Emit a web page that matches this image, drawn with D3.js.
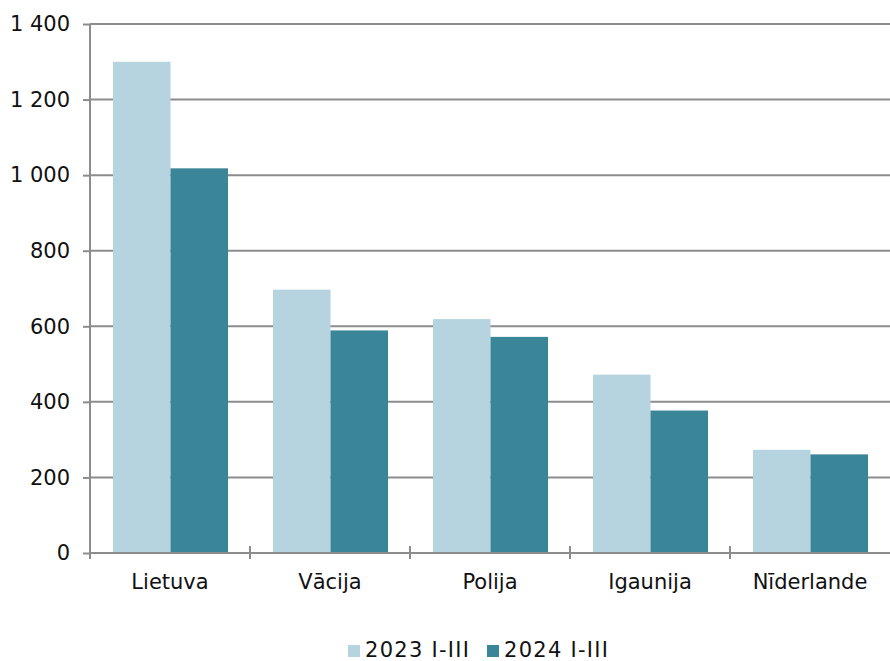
<!DOCTYPE html>
<html>
<head>
<meta charset="utf-8">
<script src="https://cdn.jsdelivr.net/npm/d3@7"></script>
<style>
  body { margin: 0; background: #fff; }
  text { font-family: "DejaVu Sans", Verdana, sans-serif; fill: #111; }
</style>
</head>
<body>
<div id="chart"></div>
<script>
// data
var countries = ["Lietuva", "Vācija", "Polija", "Igaunija", "Nīderlande"];
var series = ["2023 I-III", "2024 I-III"];
var values2023 = [1300, 697, 619, 472, 273];
var values2024 = [1018, 589, 572, 377, 261];
var yTicks = [0, 200, 400, 600, 800, 1000, 1200, 1400];
var colors = ["#b5d4df", "#3a8598"];

var svgWidth = 890;
var svgHeight = 661;
var margin = { top: 24, right: 0, bottom: 108, left: 90 };
var width = svgWidth - margin.left - margin.right;
var height = svgHeight - margin.top - margin.bottom;

var svg = d3.select("#chart")
  .append("svg")
  .attr("width", svgWidth)
  .attr("height", svgHeight);

var chartGroup = svg.append("g")
  .attr("transform", `translate(${margin.left}, ${margin.top})`);

// scales
var x0 = d3.scaleBand().domain(countries).range([0, width]).padding(0);
var x1 = d3.scaleBand().domain(series).range([23, x0.bandwidth() - 22]).padding(0);
var y = d3.scaleLinear().domain([0, 1400]).range([height, 0]);

// gridlines
chartGroup.append("g")
  .selectAll("line")
  .data(yTicks.filter(d => d > 0))
  .enter()
  .append("line")
  .attr("x1", 0)
  .attr("x2", width)
  .attr("y1", d => y(d))
  .attr("y2", d => y(d))
  .attr("stroke", "#8c8c8c")
  .attr("stroke-width", 2);

// bars
var rows = countries.map((c, i) => ({ country: c, vals: [values2023[i], values2024[i]] }));

var groups = chartGroup.selectAll(".grp")
  .data(rows)
  .enter()
  .append("g")
  .attr("transform", d => `translate(${x0(d.country)}, 0)`);

groups.selectAll("rect")
  .data(d => d.vals.map((v, j) => ({ key: series[j], value: v, j: j })))
  .enter()
  .append("rect")
  .attr("x", d => x1(d.key))
  .attr("y", d => y(d.value))
  .attr("width", x1.bandwidth())
  .attr("height", d => height - y(d.value))
  .attr("fill", d => colors[d.j]);

// y axis
var leftAxis = d3.axisLeft(y)
  .tickValues(yTicks)
  .tickSize(7)
  .tickPadding(13)
  .tickFormat(d => d3.format(",")(d).replace(/,/g, " "));

var yAxis = chartGroup.append("g").call(leftAxis);
yAxis.select(".domain").attr("stroke", "#8c8c8c").attr("stroke-width", 2).attr("d", `M0,0V${height + 6}`);
yAxis.selectAll(".tick line").attr("stroke", "#8c8c8c").attr("stroke-width", 2);
yAxis.selectAll(".tick text").style("font-size", "21px").attr("fill", "#111");

// x axis
var xAxis = chartGroup.append("g")
  .attr("transform", `translate(0, ${height})`);

xAxis.append("line")
  .attr("x1", 0).attr("x2", width)
  .attr("stroke", "#8c8c8c").attr("stroke-width", 2);

xAxis.selectAll(".sep")
  .data(countries.slice(1))
  .enter()
  .append("line")
  .attr("x1", d => x0(d)).attr("x2", d => x0(d))
  .attr("y1", -7).attr("y2", 6)
  .attr("stroke", "#8c8c8c").attr("stroke-width", 2);

xAxis.selectAll(".lbl")
  .data(countries)
  .enter()
  .append("text")
  .attr("x", d => x0(d) + x0.bandwidth() / 2)
  .attr("y", 36)
  .attr("text-anchor", "middle")
  .style("font-size", "21px")
  .text(d => d);

// legend
var legend = svg.append("g");
var legendX = [348, 487];
series.forEach(function(s, i) {
  legend.append("rect")
    .attr("x", legendX[i]).attr("y", 645)
    .attr("width", 12).attr("height", 12)
    .attr("fill", colors[i]);
  legend.append("text")
    .attr("x", legendX[i] + 17).attr("y", 657)
    .attr("textLength", 104)
    .attr("lengthAdjust", "spacing")
    .style("font-size", "21px")
    .text(s);
});
</script>
</body>
</html>
